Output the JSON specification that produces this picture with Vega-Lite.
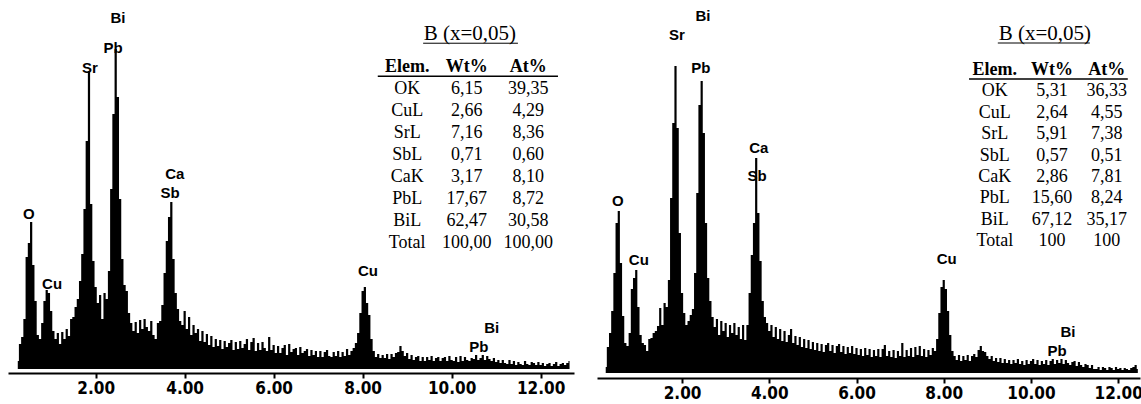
{
  "$schema": "https://vega.github.io/schema/vega-lite/v6.json",
  "background": "white",
  "padding": {"left": 8, "top": 0, "right": 0, "bottom": 0},
  "spacing": 23,
  "bounds": "flush",
  "config": {"view": {"stroke": null}},
  "datasets": {
    "spectrumLeft": [
      {"keV":0.25,"counts":8},{"keV":0.30,"counts":25},{"keV":0.35,"counts":32},{"keV":0.40,"counts":50},{"keV":0.45,"counts":112},{"keV":0.50,"counts":126},{"keV":0.55,"counts":147},{"keV":0.60,"counts":104},{"keV":0.65,"counts":68},{"keV":0.70,"counts":34},
      {"keV":0.75,"counts":30},{"keV":0.80,"counts":46},{"keV":0.85,"counts":68},{"keV":0.90,"counts":79},{"keV":0.95,"counts":76},{"keV":1.00,"counts":58},{"keV":1.05,"counts":38},{"keV":1.10,"counts":30},{"keV":1.15,"counts":36},{"keV":1.20,"counts":25},
      {"keV":1.25,"counts":37},{"keV":1.30,"counts":30},{"keV":1.35,"counts":40},{"keV":1.40,"counts":33},{"keV":1.45,"counts":50},{"keV":1.50,"counts":52},{"keV":1.55,"counts":62},{"keV":1.60,"counts":70},{"keV":1.65,"counts":88},{"keV":1.70,"counts":115},
      {"keV":1.75,"counts":160},{"keV":1.80,"counts":228},{"keV":1.85,"counts":298},{"keV":1.90,"counts":165},{"keV":1.95,"counts":108},{"keV":2.00,"counts":82},{"keV":2.05,"counts":66},{"keV":2.10,"counts":74},{"keV":2.15,"counts":50},{"keV":2.20,"counts":76},
      {"keV":2.25,"counts":70},{"keV":2.30,"counts":98},{"keV":2.35,"counts":180},{"keV":2.40,"counts":255},{"keV":2.45,"counts":320},{"keV":2.50,"counts":272},{"keV":2.55,"counts":170},{"keV":2.60,"counts":110},{"keV":2.65,"counts":84},{"keV":2.70,"counts":78},
      {"keV":2.75,"counts":56},{"keV":2.80,"counts":46},{"keV":2.85,"counts":38},{"keV":2.90,"counts":47},{"keV":2.95,"counts":36},{"keV":3.00,"counts":49},{"keV":3.05,"counts":40},{"keV":3.10,"counts":50},{"keV":3.15,"counts":42},{"keV":3.20,"counts":38},
      {"keV":3.25,"counts":48},{"keV":3.30,"counts":34},{"keV":3.35,"counts":30},{"keV":3.40,"counts":46},{"keV":3.45,"counts":48},{"keV":3.50,"counts":64},{"keV":3.55,"counts":96},{"keV":3.60,"counts":128},{"keV":3.65,"counts":152},{"keV":3.70,"counts":167},
      {"keV":3.75,"counts":110},{"keV":3.80,"counts":76},{"keV":3.85,"counts":60},{"keV":3.90,"counts":48},{"keV":3.95,"counts":44},{"keV":4.00,"counts":58},{"keV":4.05,"counts":40},{"keV":4.10,"counts":52},{"keV":4.15,"counts":34},{"keV":4.20,"counts":44},
      {"keV":4.25,"counts":36},{"keV":4.30,"counts":40},{"keV":4.35,"counts":28},{"keV":4.40,"counts":38},{"keV":4.45,"counts":27},{"keV":4.50,"counts":35},{"keV":4.55,"counts":24},{"keV":4.60,"counts":33},{"keV":4.65,"counts":22},{"keV":4.70,"counts":30},
      {"keV":4.75,"counts":23},{"keV":4.80,"counts":29},{"keV":4.85,"counts":20},{"keV":4.90,"counts":28},{"keV":4.95,"counts":22},{"keV":5.00,"counts":26},{"keV":5.05,"counts":29},{"keV":5.10,"counts":19},{"keV":5.15,"counts":27},{"keV":5.20,"counts":20},
      {"keV":5.25,"counts":28},{"keV":5.30,"counts":21},{"keV":5.35,"counts":25},{"keV":5.40,"counts":30},{"keV":5.45,"counts":19},{"keV":5.50,"counts":27},{"keV":5.55,"counts":31},{"keV":5.60,"counts":18},{"keV":5.65,"counts":26},{"keV":5.70,"counts":19},
      {"keV":5.75,"counts":27},{"keV":5.80,"counts":21},{"keV":5.85,"counts":18},{"keV":5.90,"counts":32},{"keV":5.95,"counts":19},{"keV":6.00,"counts":24},{"keV":6.05,"counts":16},{"keV":6.10,"counts":23},{"keV":6.15,"counts":16},{"keV":6.20,"counts":21},
      {"keV":6.25,"counts":24},{"keV":6.30,"counts":14},{"keV":6.35,"counts":25},{"keV":6.40,"counts":17},{"keV":6.45,"counts":20},{"keV":6.50,"counts":21},{"keV":6.55,"counts":14},{"keV":6.60,"counts":22},{"keV":6.65,"counts":16},{"keV":6.70,"counts":18},
      {"keV":6.75,"counts":20},{"keV":6.80,"counts":13},{"keV":6.85,"counts":19},{"keV":6.90,"counts":14},{"keV":6.95,"counts":18},{"keV":7.00,"counts":12},{"keV":7.05,"counts":18},{"keV":7.10,"counts":12},{"keV":7.15,"counts":17},{"keV":7.20,"counts":19},
      {"keV":7.25,"counts":13},{"keV":7.30,"counts":12},{"keV":7.35,"counts":17},{"keV":7.40,"counts":13},{"keV":7.45,"counts":18},{"keV":7.50,"counts":12},{"keV":7.55,"counts":17},{"keV":7.60,"counts":13},{"keV":7.65,"counts":20},{"keV":7.70,"counts":14},
      {"keV":7.75,"counts":18},{"keV":7.80,"counts":21},{"keV":7.85,"counts":26},{"keV":7.90,"counts":36},{"keV":7.95,"counts":56},{"keV":8.00,"counts":78},{"keV":8.05,"counts":82},{"keV":8.10,"counts":66},{"keV":8.15,"counts":54},{"keV":8.20,"counts":30},
      {"keV":8.25,"counts":18},{"keV":8.30,"counts":12},{"keV":8.35,"counts":15},{"keV":8.40,"counts":11},{"keV":8.45,"counts":14},{"keV":8.50,"counts":11},{"keV":8.55,"counts":15},{"keV":8.60,"counts":10},{"keV":8.65,"counts":15},{"keV":8.70,"counts":12},
      {"keV":8.75,"counts":16},{"keV":8.80,"counts":17},{"keV":8.85,"counts":23},{"keV":8.90,"counts":18},{"keV":8.95,"counts":13},{"keV":9.00,"counts":16},{"keV":9.05,"counts":10},{"keV":9.10,"counts":14},{"keV":9.15,"counts":9},{"keV":9.20,"counts":12},
      {"keV":9.25,"counts":13},{"keV":9.30,"counts":8},{"keV":9.35,"counts":12},{"keV":9.40,"counts":8},{"keV":9.45,"counts":12},{"keV":9.50,"counts":9},{"keV":9.55,"counts":13},{"keV":9.60,"counts":8},{"keV":9.65,"counts":11},{"keV":9.70,"counts":12},
      {"keV":9.75,"counts":8},{"keV":9.80,"counts":11},{"keV":9.85,"counts":12},{"keV":9.90,"counts":8},{"keV":9.95,"counts":13},{"keV":10.00,"counts":9},{"keV":10.05,"counts":8},{"keV":10.10,"counts":12},{"keV":10.15,"counts":7},{"keV":10.20,"counts":13},
      {"keV":10.25,"counts":8},{"keV":10.30,"counts":12},{"keV":10.35,"counts":9},{"keV":10.40,"counts":8},{"keV":10.45,"counts":11},{"keV":10.50,"counts":10},{"keV":10.55,"counts":14},{"keV":10.60,"counts":9},{"keV":10.65,"counts":11},{"keV":10.70,"counts":14},
      {"keV":10.75,"counts":9},{"keV":10.80,"counts":13},{"keV":10.85,"counts":10},{"keV":10.90,"counts":8},{"keV":10.95,"counts":11},{"keV":11.00,"counts":7},{"keV":11.05,"counts":9},{"keV":11.10,"counts":6},{"keV":11.15,"counts":9},{"keV":11.20,"counts":6},
      {"keV":11.25,"counts":5},{"keV":11.30,"counts":9},{"keV":11.35,"counts":5},{"keV":11.40,"counts":8},{"keV":11.45,"counts":4},{"keV":11.50,"counts":7},{"keV":11.55,"counts":5},{"keV":11.60,"counts":4},{"keV":11.65,"counts":8},{"keV":11.70,"counts":5},
      {"keV":11.75,"counts":4},{"keV":11.80,"counts":7},{"keV":11.85,"counts":6},{"keV":11.90,"counts":4},{"keV":11.95,"counts":7},{"keV":12.00,"counts":4},{"keV":12.05,"counts":6},{"keV":12.10,"counts":3},{"keV":12.15,"counts":5},{"keV":12.20,"counts":6},
      {"keV":12.25,"counts":3},{"keV":12.30,"counts":5},{"keV":12.35,"counts":7},{"keV":12.40,"counts":3},{"keV":12.45,"counts":5},{"keV":12.50,"counts":6},{"keV":12.55,"counts":4},{"keV":12.60,"counts":6},{"keV":12.65,"counts":8}
    ],
    "spectrumRight": [
      {"keV":0.25,"counts":6},{"keV":0.30,"counts":26},{"keV":0.35,"counts":40},{"keV":0.40,"counts":62},{"keV":0.45,"counts":100},{"keV":0.50,"counts":150},{"keV":0.55,"counts":162},{"keV":0.60,"counts":110},{"keV":0.65,"counts":57},{"keV":0.70,"counts":30},
      {"keV":0.75,"counts":27},{"keV":0.80,"counts":40},{"keV":0.85,"counts":84},{"keV":0.90,"counts":95},{"keV":0.95,"counts":103},{"keV":1.00,"counts":66},{"keV":1.05,"counts":38},{"keV":1.10,"counts":30},{"keV":1.15,"counts":28},{"keV":1.20,"counts":22},
      {"keV":1.25,"counts":34},{"keV":1.30,"counts":35},{"keV":1.35,"counts":40},{"keV":1.40,"counts":42},{"keV":1.45,"counts":47},{"keV":1.50,"counts":65},{"keV":1.55,"counts":48},{"keV":1.60,"counts":70},{"keV":1.65,"counts":66},{"keV":1.70,"counts":93},
      {"keV":1.75,"counts":175},{"keV":1.80,"counts":250},{"keV":1.85,"counts":307},{"keV":1.90,"counts":245},{"keV":1.95,"counts":140},{"keV":2.00,"counts":80},{"keV":2.05,"counts":60},{"keV":2.10,"counts":48},{"keV":2.15,"counts":52},{"keV":2.20,"counts":58},
      {"keV":2.25,"counts":64},{"keV":2.30,"counts":100},{"keV":2.35,"counts":180},{"keV":2.40,"counts":268},{"keV":2.45,"counts":292},{"keV":2.50,"counts":240},{"keV":2.55,"counts":150},{"keV":2.60,"counts":95},{"keV":2.65,"counts":72},{"keV":2.70,"counts":56},
      {"keV":2.75,"counts":46},{"keV":2.80,"counts":54},{"keV":2.85,"counts":38},{"keV":2.90,"counts":52},{"keV":2.95,"counts":42},{"keV":3.00,"counts":50},{"keV":3.05,"counts":36},{"keV":3.10,"counts":48},{"keV":3.15,"counts":40},{"keV":3.20,"counts":50},
      {"keV":3.25,"counts":38},{"keV":3.30,"counts":46},{"keV":3.35,"counts":34},{"keV":3.40,"counts":48},{"keV":3.45,"counts":33},{"keV":3.50,"counts":48},{"keV":3.55,"counts":80},{"keV":3.60,"counts":118},{"keV":3.65,"counts":150},{"keV":3.70,"counts":215},
      {"keV":3.75,"counts":160},{"keV":3.80,"counts":112},{"keV":3.85,"counts":72},{"keV":3.90,"counts":56},{"keV":3.95,"counts":50},{"keV":4.00,"counts":42},{"keV":4.05,"counts":48},{"keV":4.10,"counts":36},{"keV":4.15,"counts":46},{"keV":4.20,"counts":34},
      {"keV":4.25,"counts":44},{"keV":4.30,"counts":32},{"keV":4.35,"counts":42},{"keV":4.40,"counts":31},{"keV":4.45,"counts":38},{"keV":4.50,"counts":44},{"keV":4.55,"counts":30},{"keV":4.60,"counts":37},{"keV":4.65,"counts":28},{"keV":4.70,"counts":36},
      {"keV":4.75,"counts":26},{"keV":4.80,"counts":34},{"keV":4.85,"counts":25},{"keV":4.90,"counts":33},{"keV":4.95,"counts":24},{"keV":5.00,"counts":31},{"keV":5.05,"counts":23},{"keV":5.10,"counts":30},{"keV":5.15,"counts":22},{"keV":5.20,"counts":29},
      {"keV":5.25,"counts":21},{"keV":5.30,"counts":28},{"keV":5.35,"counts":30},{"keV":5.40,"counts":22},{"keV":5.45,"counts":28},{"keV":5.50,"counts":20},{"keV":5.55,"counts":27},{"keV":5.60,"counts":29},{"keV":5.65,"counts":21},{"keV":5.70,"counts":27},
      {"keV":5.75,"counts":19},{"keV":5.80,"counts":26},{"keV":5.85,"counts":20},{"keV":5.90,"counts":27},{"keV":5.95,"counts":19},{"keV":6.00,"counts":25},{"keV":6.05,"counts":18},{"keV":6.10,"counts":24},{"keV":6.15,"counts":17},{"keV":6.20,"counts":25},
      {"keV":6.25,"counts":18},{"keV":6.30,"counts":24},{"keV":6.35,"counts":16},{"keV":6.40,"counts":23},{"keV":6.45,"counts":17},{"keV":6.50,"counts":24},{"keV":6.55,"counts":16},{"keV":6.60,"counts":24},{"keV":6.65,"counts":28},{"keV":6.70,"counts":17},
      {"keV":6.75,"counts":22},{"keV":6.80,"counts":16},{"keV":6.85,"counts":23},{"keV":6.90,"counts":15},{"keV":6.95,"counts":22},{"keV":7.00,"counts":17},{"keV":7.05,"counts":30},{"keV":7.10,"counts":16},{"keV":7.15,"counts":23},{"keV":7.20,"counts":17},
      {"keV":7.25,"counts":25},{"keV":7.30,"counts":16},{"keV":7.35,"counts":26},{"keV":7.40,"counts":18},{"keV":7.45,"counts":27},{"keV":7.50,"counts":17},{"keV":7.55,"counts":24},{"keV":7.60,"counts":16},{"keV":7.65,"counts":23},{"keV":7.70,"counts":18},
      {"keV":7.75,"counts":25},{"keV":7.80,"counts":22},{"keV":7.85,"counts":34},{"keV":7.90,"counts":60},{"keV":7.95,"counts":86},{"keV":8.00,"counts":93},{"keV":8.05,"counts":84},{"keV":8.10,"counts":62},{"keV":8.15,"counts":38},{"keV":8.20,"counts":22},
      {"keV":8.25,"counts":17},{"keV":8.30,"counts":13},{"keV":8.35,"counts":18},{"keV":8.40,"counts":12},{"keV":8.45,"counts":17},{"keV":8.50,"counts":13},{"keV":8.55,"counts":18},{"keV":8.60,"counts":12},{"keV":8.65,"counts":17},{"keV":8.70,"counts":19},
      {"keV":8.75,"counts":16},{"keV":8.80,"counts":23},{"keV":8.85,"counts":27},{"keV":8.90,"counts":22},{"keV":8.95,"counts":21},{"keV":9.00,"counts":17},{"keV":9.05,"counts":14},{"keV":9.10,"counts":17},{"keV":9.15,"counts":12},{"keV":9.20,"counts":15},
      {"keV":9.25,"counts":11},{"keV":9.30,"counts":15},{"keV":9.35,"counts":10},{"keV":9.40,"counts":14},{"keV":9.45,"counts":10},{"keV":9.50,"counts":13},{"keV":9.55,"counts":9},{"keV":9.60,"counts":13},{"keV":9.65,"counts":10},{"keV":9.70,"counts":14},
      {"keV":9.75,"counts":9},{"keV":9.80,"counts":12},{"keV":9.85,"counts":8},{"keV":9.90,"counts":13},{"keV":9.95,"counts":9},{"keV":10.00,"counts":12},{"keV":10.05,"counts":14},{"keV":10.10,"counts":9},{"keV":10.15,"counts":13},{"keV":10.20,"counts":8},
      {"keV":10.25,"counts":12},{"keV":10.30,"counts":9},{"keV":10.35,"counts":13},{"keV":10.40,"counts":8},{"keV":10.45,"counts":12},{"keV":10.50,"counts":14},{"keV":10.55,"counts":9},{"keV":10.60,"counts":13},{"keV":10.65,"counts":10},{"keV":10.70,"counts":14},
      {"keV":10.75,"counts":9},{"keV":10.80,"counts":13},{"keV":10.85,"counts":10},{"keV":10.90,"counts":8},{"keV":10.95,"counts":11},{"keV":11.00,"counts":12},{"keV":11.05,"counts":7},{"keV":11.10,"counts":11},{"keV":11.15,"counts":8},{"keV":11.20,"counts":6},
      {"keV":11.25,"counts":9},{"keV":11.30,"counts":8},{"keV":11.35,"counts":5},{"keV":11.40,"counts":8},{"keV":11.45,"counts":4},{"keV":11.50,"counts":4},{"keV":11.55,"counts":6},{"keV":11.60,"counts":3},{"keV":11.65,"counts":6},{"keV":11.70,"counts":5},
      {"keV":11.75,"counts":3},{"keV":11.80,"counts":6},{"keV":11.85,"counts":5},{"keV":11.90,"counts":3},{"keV":11.95,"counts":6},{"keV":12.00,"counts":4},{"keV":12.05,"counts":5},{"keV":12.10,"counts":3},{"keV":12.15,"counts":5},{"keV":12.20,"counts":4},
      {"keV":12.25,"counts":3},{"keV":12.30,"counts":5},{"keV":12.35,"counts":6},{"keV":12.40,"counts":8},{"keV":12.45,"counts":4}
    ],
    "peaksLeft": [
      {"label":"Bi","keV":2.50,"counts":351},{"label":"Pb","keV":2.39,"counts":321},{"label":"Sr","keV":1.87,"counts":301},
      {"label":"Ca","keV":3.78,"counts":195},{"label":"Sb","keV":3.67,"counts":176},{"label":"O","keV":0.50,"counts":155},
      {"label":"Cu","keV":1.02,"counts":85},{"label":"Cu","keV":8.12,"counts":98},{"label":"Bi","keV":10.90,"counts":41},
      {"label":"Pb","keV":10.61,"counts":22}
    ],
    "peaksRight": [
      {"label":"Bi","keV":2.48,"counts":357},{"label":"Sr","keV":1.88,"counts":338},{"label":"Pb","keV":2.43,"counts":305},
      {"label":"Ca","keV":3.76,"counts":225},{"label":"Sb","keV":3.72,"counts":197},{"label":"O","keV":0.53,"counts":172},
      {"label":"Cu","keV":1.01,"counts":113},{"label":"Cu","keV":8.07,"counts":114},{"label":"Bi","keV":10.85,"counts":41},
      {"label":"Pb","keV":10.60,"counts":22}
    ],
    "tableLeft": [
      {"line":1,"elem":"OK","wt":"6,15","at":"39,35"},
      {"line":2,"elem":"CuL","wt":"2,66","at":"4,29"},
      {"line":3,"elem":"SrL","wt":"7,16","at":"8,36"},
      {"line":4,"elem":"SbL","wt":"0,71","at":"0,60"},
      {"line":5,"elem":"CaK","wt":"3,17","at":"8,10"},
      {"line":6,"elem":"PbL","wt":"17,67","at":"8,72"},
      {"line":7,"elem":"BiL","wt":"62,47","at":"30,58"},
      {"line":8,"elem":"Total","wt":"100,00","at":"100,00"}
    ],
    "tableRight": [
      {"line":1,"elem":"OK","wt":"5,31","at":"36,33"},
      {"line":2,"elem":"CuL","wt":"2,64","at":"4,55"},
      {"line":3,"elem":"SrL","wt":"5,91","at":"7,38"},
      {"line":4,"elem":"SbL","wt":"0,57","at":"0,51"},
      {"line":5,"elem":"CaK","wt":"2,86","at":"7,81"},
      {"line":6,"elem":"PbL","wt":"15,60","at":"8,24"},
      {"line":7,"elem":"BiL","wt":"67,12","at":"35,17"},
      {"line":8,"elem":"Total","wt":"100","at":"100"}
    ]
  },
  "hconcat": [
    {
      "width": 566,
      "height": 369,
      "resolve": {"scale": {"y": "independent"}},
      "layer": [
        {
          "data": {"name": "spectrumLeft"},
          "mark": {"type": "area", "interpolate": "step", "orient": "vertical", "color": "black"},
          "encoding": {
            "x": {"field": "keV", "type": "quantitative",
                  "scale": {"domain": [0.03, 12.75], "nice": false, "zero": false},
                  "axis": {"values": [2, 4, 6, 8, 10, 12], "format": ".2f", "title": null, "grid": false, "offset": 4,
                           "domainColor": "black", "domainWidth": 2, "tickColor": "black", "tickWidth": 2, "tickSize": 5,
                           "labelFont": "Liberation Sans Narrow, DejaVu Sans Condensed, Liberation Sans", "labelFontSize": 17,
                           "labelFontWeight": "bold", "labelColor": "black", "labelPadding": 2}},
            "y": {"field": "counts", "type": "quantitative", "scale": {"domain": [0, 369], "nice": false}, "axis": null}
          }
        },
        {
          "data": {"name": "peaksLeft"},
          "mark": {"type": "text", "font": "Liberation Sans", "fontSize": 15, "fontWeight": "bold", "color": "black", "baseline": "middle", "align": "center"},
          "encoding": {
            "x": {"field": "keV", "type": "quantitative"},
            "y": {"field": "counts", "type": "quantitative", "scale": {"domain": [0, 369], "nice": false}, "axis": null},
            "text": {"field": "label"}
          }
        },
        {
          "layer": [
            {
              "data": {"values": [{}]},
              "mark": {"type": "text", "text": "B (x=0,05)", "font": "Liberation Serif", "fontSize": 21, "color": "black", "baseline": "middle", "align": "center"},
              "encoding": {
                "x": {"datum": 10.41, "type": "quantitative"},
                "y": {"datum": -1.5, "type": "quantitative", "scale": {"domain": [-3.045, 13.727], "reverse": true, "nice": false, "zero": false}, "axis": null}
              }
            },
            {
              "data": {"values": [{}]},
              "mark": {"type": "rule", "color": "black", "strokeWidth": 1},
              "encoding": {
                "x": {"datum": 9.36, "type": "quantitative"}, "x2": {"datum": 11.49},
                "y": {"datum": -1.08, "type": "quantitative", "scale": {"domain": [-3.045, 13.727], "reverse": true, "nice": false, "zero": false}, "axis": null}
              }
            },
            {
              "data": {"values": [{}]},
              "mark": {"type": "rule", "color": "black", "strokeWidth": 1.5},
              "encoding": {
                "x": {"datum": 8.34, "type": "quantitative"}, "x2": {"datum": 12.39},
                "y": {"datum": 0.42, "type": "quantitative", "scale": {"domain": [-3.045, 13.727], "reverse": true, "nice": false, "zero": false}, "axis": null}
              }
            },
            {
              "data": {"values": [{}]},
              "mark": {"type": "text", "text": "Elem.", "font": "Liberation Serif", "fontSize": 18, "fontWeight": "bold", "color": "black", "baseline": "middle", "align": "center"},
              "encoding": {
                "x": {"datum": 9.0, "type": "quantitative"},
                "y": {"datum": 0, "type": "quantitative", "scale": {"domain": [-3.045, 13.727], "reverse": true, "nice": false, "zero": false}, "axis": null}
              }
            },
            {
              "data": {"values": [{}]},
              "mark": {"type": "text", "text": "Wt%", "font": "Liberation Serif", "fontSize": 18, "fontWeight": "bold", "color": "black", "baseline": "middle", "align": "center"},
              "encoding": {
                "x": {"datum": 10.34, "type": "quantitative"},
                "y": {"datum": 0, "type": "quantitative", "scale": {"domain": [-3.045, 13.727], "reverse": true, "nice": false, "zero": false}, "axis": null}
              }
            },
            {
              "data": {"values": [{}]},
              "mark": {"type": "text", "text": "At%", "font": "Liberation Serif", "fontSize": 18, "fontWeight": "bold", "color": "black", "baseline": "middle", "align": "center"},
              "encoding": {
                "x": {"datum": 11.72, "type": "quantitative"},
                "y": {"datum": 0, "type": "quantitative", "scale": {"domain": [-3.045, 13.727], "reverse": true, "nice": false, "zero": false}, "axis": null}
              }
            },
            {
              "data": {"name": "tableLeft"},
              "mark": {"type": "text", "font": "Liberation Serif", "fontSize": 18, "color": "black", "baseline": "middle", "align": "center"},
              "encoding": {
                "x": {"datum": 9.0, "type": "quantitative"},
                "y": {"field": "line", "type": "quantitative", "scale": {"domain": [-3.045, 13.727], "reverse": true, "nice": false, "zero": false}, "axis": null},
                "text": {"field": "elem"}
              }
            },
            {
              "data": {"name": "tableLeft"},
              "mark": {"type": "text", "font": "Liberation Serif", "fontSize": 18, "color": "black", "baseline": "middle", "align": "center"},
              "encoding": {
                "x": {"datum": 10.34, "type": "quantitative"},
                "y": {"field": "line", "type": "quantitative", "scale": {"domain": [-3.045, 13.727], "reverse": true, "nice": false, "zero": false}, "axis": null},
                "text": {"field": "wt"}
              }
            },
            {
              "data": {"name": "tableLeft"},
              "mark": {"type": "text", "font": "Liberation Serif", "fontSize": 18, "color": "black", "baseline": "middle", "align": "center"},
              "encoding": {
                "x": {"datum": 11.72, "type": "quantitative"},
                "y": {"field": "line", "type": "quantitative", "scale": {"domain": [-3.045, 13.727], "reverse": true, "nice": false, "zero": false}, "axis": null},
                "text": {"field": "at"}
              }
            }
          ]
        }
      ]
    },
    {
      "width": 543,
      "height": 373,
      "resolve": {"scale": {"y": "independent"}},
      "layer": [
        {
          "data": {"name": "spectrumRight"},
          "mark": {"type": "area", "interpolate": "step", "orient": "vertical", "color": "black"},
          "encoding": {
            "x": {"field": "keV", "type": "quantitative",
                  "scale": {"domain": [0.05, 12.5], "nice": false, "zero": false},
                  "axis": {"values": [2, 4, 6, 8, 10, 12], "format": ".2f", "title": null, "grid": false, "offset": 5,
                           "domainColor": "black", "domainWidth": 2, "tickColor": "black", "tickWidth": 2, "tickSize": 5,
                           "labelFont": "Liberation Sans Narrow, DejaVu Sans Condensed, Liberation Sans", "labelFontSize": 17,
                           "labelFontWeight": "bold", "labelColor": "black", "labelPadding": 2}},
            "y": {"field": "counts", "type": "quantitative", "scale": {"domain": [0, 373], "nice": false}, "axis": null}
          }
        },
        {
          "data": {"name": "peaksRight"},
          "mark": {"type": "text", "font": "Liberation Sans", "fontSize": 15, "fontWeight": "bold", "color": "black", "baseline": "middle", "align": "center"},
          "encoding": {
            "x": {"field": "keV", "type": "quantitative"},
            "y": {"field": "counts", "type": "quantitative", "scale": {"domain": [0, 373], "nice": false}, "axis": null},
            "text": {"field": "label"}
          }
        },
        {
          "layer": [
            {
              "data": {"values": [{}]},
              "mark": {"type": "text", "text": "B (x=0,05)", "font": "Liberation Serif", "fontSize": 21, "color": "black", "baseline": "middle", "align": "center"},
              "encoding": {
                "x": {"datum": 10.32, "type": "quantitative"},
                "y": {"datum": -1.68, "type": "quantitative", "scale": {"domain": [-3.27, 14.16], "reverse": true, "nice": false, "zero": false}, "axis": null}
              }
            },
            {
              "data": {"values": [{}]},
              "mark": {"type": "rule", "color": "black", "strokeWidth": 1},
              "encoding": {
                "x": {"datum": 9.24, "type": "quantitative"}, "x2": {"datum": 11.35},
                "y": {"datum": -1.26, "type": "quantitative", "scale": {"domain": [-3.27, 14.16], "reverse": true, "nice": false, "zero": false}, "axis": null}
              }
            },
            {
              "data": {"values": [{}]},
              "mark": {"type": "rule", "color": "black", "strokeWidth": 1.5},
              "encoding": {
                "x": {"datum": 8.58, "type": "quantitative"}, "x2": {"datum": 12.22},
                "y": {"datum": 0.42, "type": "quantitative", "scale": {"domain": [-3.27, 14.16], "reverse": true, "nice": false, "zero": false}, "axis": null}
              }
            },
            {
              "data": {"values": [{}]},
              "mark": {"type": "text", "text": "Elem.", "font": "Liberation Serif", "fontSize": 18, "fontWeight": "bold", "color": "black", "baseline": "middle", "align": "center"},
              "encoding": {
                "x": {"datum": 9.17, "type": "quantitative"},
                "y": {"datum": 0, "type": "quantitative", "scale": {"domain": [-3.27, 14.16], "reverse": true, "nice": false, "zero": false}, "axis": null}
              }
            },
            {
              "data": {"values": [{}]},
              "mark": {"type": "text", "text": "Wt%", "font": "Liberation Serif", "fontSize": 18, "fontWeight": "bold", "color": "black", "baseline": "middle", "align": "center"},
              "encoding": {
                "x": {"datum": 10.48, "type": "quantitative"},
                "y": {"datum": 0, "type": "quantitative", "scale": {"domain": [-3.27, 14.16], "reverse": true, "nice": false, "zero": false}, "axis": null}
              }
            },
            {
              "data": {"values": [{}]},
              "mark": {"type": "text", "text": "At%", "font": "Liberation Serif", "fontSize": 18, "fontWeight": "bold", "color": "black", "baseline": "middle", "align": "center"},
              "encoding": {
                "x": {"datum": 11.74, "type": "quantitative"},
                "y": {"datum": 0, "type": "quantitative", "scale": {"domain": [-3.27, 14.16], "reverse": true, "nice": false, "zero": false}, "axis": null}
              }
            },
            {
              "data": {"name": "tableRight"},
              "mark": {"type": "text", "font": "Liberation Serif", "fontSize": 18, "color": "black", "baseline": "middle", "align": "center"},
              "encoding": {
                "x": {"datum": 9.17, "type": "quantitative"},
                "y": {"field": "line", "type": "quantitative", "scale": {"domain": [-3.27, 14.16], "reverse": true, "nice": false, "zero": false}, "axis": null},
                "text": {"field": "elem"}
              }
            },
            {
              "data": {"name": "tableRight"},
              "mark": {"type": "text", "font": "Liberation Serif", "fontSize": 18, "color": "black", "baseline": "middle", "align": "center"},
              "encoding": {
                "x": {"datum": 10.48, "type": "quantitative"},
                "y": {"field": "line", "type": "quantitative", "scale": {"domain": [-3.27, 14.16], "reverse": true, "nice": false, "zero": false}, "axis": null},
                "text": {"field": "wt"}
              }
            },
            {
              "data": {"name": "tableRight"},
              "mark": {"type": "text", "font": "Liberation Serif", "fontSize": 18, "color": "black", "baseline": "middle", "align": "center"},
              "encoding": {
                "x": {"datum": 11.74, "type": "quantitative"},
                "y": {"field": "line", "type": "quantitative", "scale": {"domain": [-3.27, 14.16], "reverse": true, "nice": false, "zero": false}, "axis": null},
                "text": {"field": "at"}
              }
            }
          ]
        }
      ]
    }
  ]
}
